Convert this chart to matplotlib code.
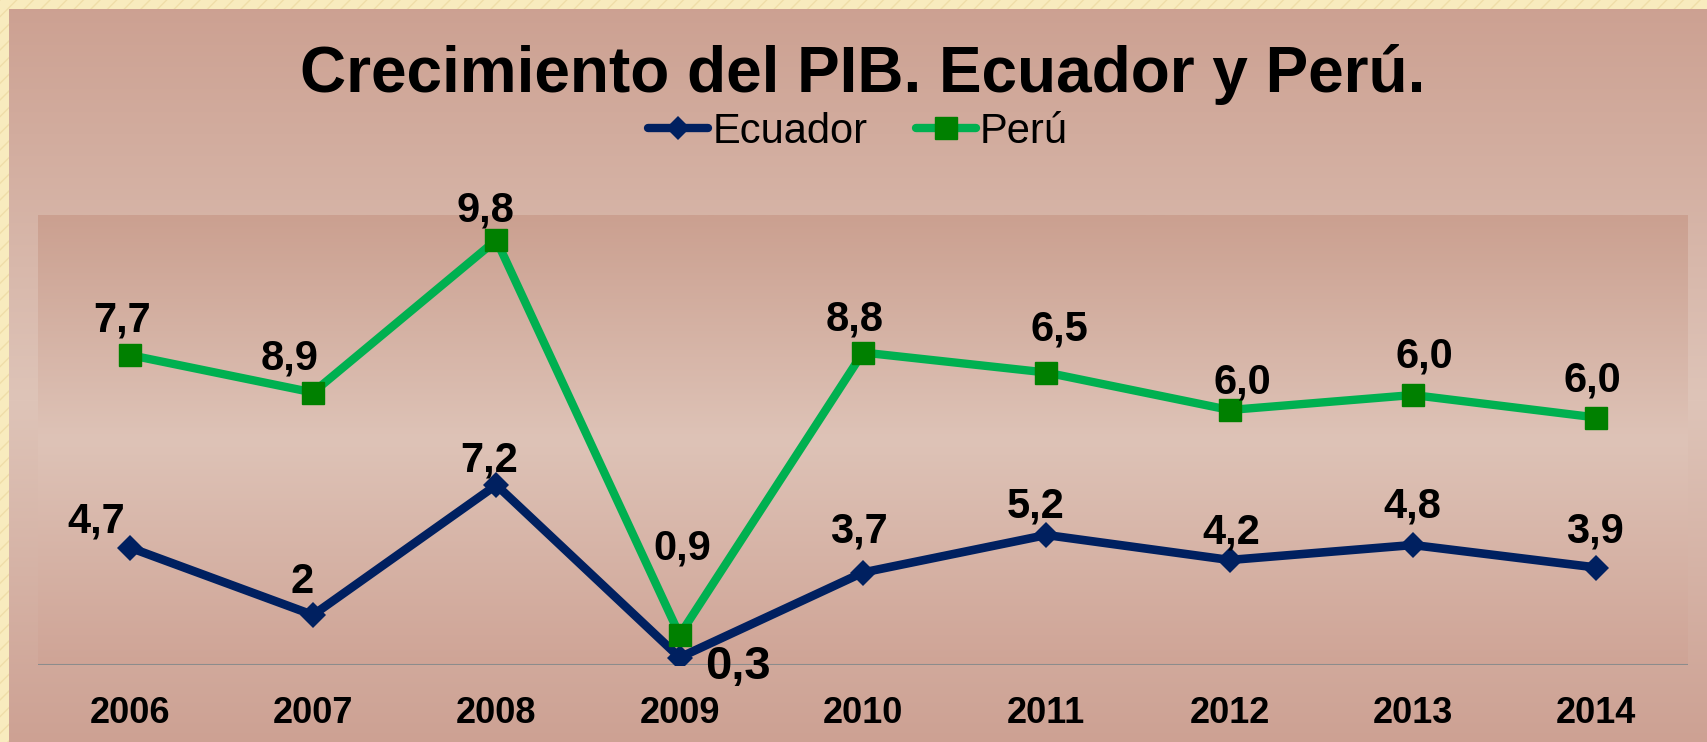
import numpy as np
import matplotlib.pyplot as plt
from matplotlib.lines import Line2D
from matplotlib.patches import Rectangle

plt.rcParams['font.family'] = ['Liberation Sans', 'DejaVu Sans']

# datos
years = ['2006', '2007', '2008', '2009', '2010', '2011', '2012', '2013', '2014']
ecuador = [4.7, 2.0, 7.2, 0.3, 3.7, 5.2, 4.2, 4.8, 3.9]
peru = [7.7, 8.9, 9.8, 0.9, 8.8, 6.5, 6.0, 6.0, 6.0]
ecuador_labels = ['4,7', '2', '7,2', '0,3', '3,7', '5,2', '4,2', '4,8', '3,9']
peru_labels = ['7,7', '8,9', '9,8', '0,9', '8,8', '6,5', '6,0', '6,0', '6,0']

# label offsets in pixels (dx, dy of baseline)
ec_off = [(-33, 15), (-11, 22), (-7, 13), (58, -21), (-4, 30), (-11, 18), (2, 17), (-1, 28), (-1, 25)]
pe_off = [(-8, 23), (-23, 23), (-11, 19), (3, 75), (-8, 22), (13, 32), (13, 17), (11, 28), (-4, 26)]

W, H = 1708, 742
fig = plt.figure(figsize=(W / 100, H / 100), dpi=100)

# background gradient
bg = fig.add_axes([0, 0, 1, 1], zorder=-10)
yy = np.arange(H)
cols = np.stack([np.interp(yy, [0, 400, 742], [204, 222, 205]),
                 np.interp(yy, [0, 400, 742], [160, 196, 161]),
                 np.interp(yy, [0, 400, 742], [145, 184, 147])], axis=1) / 255
bg.imshow(cols[:, None, :], aspect='auto', extent=[0, 1, 0, 1])
bg.set_axis_off()
# yellow frame strips (top and left)
bg.add_patch(Rectangle((0, 1 - 9 / H), 1, 9 / H, transform=bg.transAxes,
                       facecolor='#F8EBBE', edgecolor='#EFDDA8', hatch='//', lw=0))
bg.add_patch(Rectangle((0, 0), 9 / W, 1, transform=bg.transAxes,
                       facecolor='#F8EBBE', edgecolor='#EFDDA8', hatch='//', lw=0))

ax = fig.add_axes([38 / W, 77 / H, 1650 / W, 450 / H])
ax.set_xlim(-0.5, 8.5)
ax.set_ylim(0, 18)

# plot area gradient
py = np.linspace(0, 1, 300)
pcols = np.stack([np.interp(py, [0, 0.5, 1], [207, 222, 203]),
                  np.interp(py, [0, 0.5, 1], [164, 195, 160]),
                  np.interp(py, [0, 0.5, 1], [150, 183, 144])], axis=1) / 255
ax.imshow(pcols[:, None, :], aspect='auto', extent=[-0.5, 8.5, 0, 18], origin='lower', zorder=0)

x = np.arange(len(years))
ec = np.array(ecuador)
pe_stacked = ec + np.array(peru)   # lineas apiladas

ax.plot(x, ec, color='#002060', lw=6.2, marker='D', ms=13, mew=0, zorder=3)
ax.plot(x, pe_stacked, color='#00B050', lw=6, marker='s', ms=16,
        mfc='#008000', mec='#008000', zorder=4)
ax.axhline(0, color='#8C8C8C', lw=1.5, zorder=2)

for i in range(len(years)):
    fs = 34 if ecuador_labels[i] == '0,3' else 30
    ax.annotate(ecuador_labels[i], (x[i], ec[i]), xytext=ec_off[i], textcoords='offset pixels',
                ha='center', va='baseline', fontsize=fs, fontweight='bold', zorder=5)
    ax.annotate(peru_labels[i], (x[i], pe_stacked[i]), xytext=pe_off[i], textcoords='offset pixels',
                ha='center', va='baseline', fontsize=30, fontweight='bold', zorder=5)

ax.set_xticks(x)
ax.set_xticklabels(years, fontsize=26, fontweight='bold')
ax.tick_params(axis='x', length=0, pad=22)
ax.set_yticks([])
for s in ax.spines.values():
    s.set_visible(False)

fig.text(863 / W, 1 - 92 / H, 'Crecimiento del PIB. Ecuador y Perú.', ha='center', va='baseline',
         fontsize=46, fontweight='bold')

handles = [Line2D([], [], color='#002060', lw=6, marker='D', ms=12, mew=0, solid_capstyle='round'),
           Line2D([], [], color='#00B050', lw=6, marker='s', ms=16, mfc='#008000', mec='#008000',
                  solid_capstyle='round')]
fig.legend(handles, ['Ecuador', 'Perú'], loc='center', bbox_to_anchor=(858 / W, 1 - 132 / H),
           ncol=2, frameon=False, fontsize=30, handlelength=1.45, handletextpad=0.1,
           columnspacing=1.15, borderpad=0)

fig.savefig('out.png', dpi=100)
